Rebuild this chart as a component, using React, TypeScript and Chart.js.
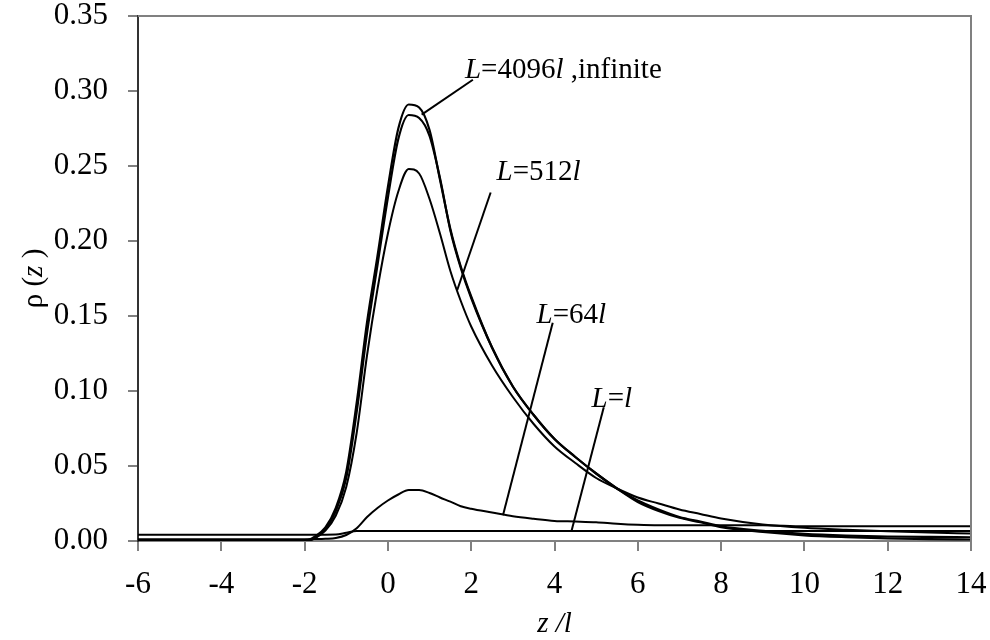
import { useEffect, useRef } from 'react';
import { Chart, registerables } from 'chart.js';

Chart.register(...registerables);

// z/l grid shared by all series
const zGrid = [-6, -2.5, -2, -1.75, -1.5, -1.25, -1, -0.75, -0.5, -0.25, 0, 0.25, 0.5, 0.75, 1, 1.25, 1.5, 1.75, 2, 2.5, 3, 3.5, 4, 4.5, 5, 5.5, 6, 6.5, 7, 7.5, 8, 9, 10, 11, 12, 13, 14];

const rhoInfinite = [0, 0, 0, 0.003, 0.009, 0.022, 0.046, 0.092, 0.146, 0.19, 0.236, 0.275, 0.291, 0.289, 0.274, 0.241, 0.208, 0.183, 0.163, 0.129, 0.103, 0.084, 0.068, 0.056, 0.045, 0.035, 0.026, 0.02, 0.0155, 0.0125, 0.0092, 0.006, 0.0038, 0.0026, 0.0018, 0.0013, 0.001];
const rho4096 = [0, 0, 0, 0.002, 0.008, 0.02, 0.042, 0.086, 0.139, 0.184, 0.229, 0.268, 0.284, 0.282, 0.27, 0.242, 0.207, 0.182, 0.162, 0.129, 0.103, 0.084, 0.068, 0.056, 0.045, 0.035, 0.027, 0.021, 0.016, 0.013, 0.0098, 0.0068, 0.0047, 0.0036, 0.003, 0.0027, 0.0025];
const rho512 = [0, 0, 0, 0.002, 0.007, 0.017, 0.036, 0.072, 0.124, 0.168, 0.205, 0.233, 0.248, 0.245, 0.228, 0.205, 0.18, 0.16, 0.143, 0.117, 0.096, 0.078, 0.063, 0.052, 0.042, 0.035, 0.029, 0.025, 0.021, 0.018, 0.015, 0.011, 0.0088, 0.0075, 0.0065, 0.0057, 0.005];
const rho64 = [0.0012, 0.0012, 0.0012, 0.0013, 0.0015, 0.002, 0.004, 0.0085, 0.016, 0.022, 0.027, 0.031, 0.034, 0.034, 0.032, 0.029, 0.0262, 0.0232, 0.0215, 0.019, 0.0165, 0.0148, 0.0134, 0.013, 0.0125, 0.0115, 0.0108, 0.0105, 0.0105, 0.0105, 0.0105, 0.0105, 0.0098, 0.0098, 0.0098, 0.0098, 0.0098];
const rhoL1 = [0.0042, 0.0042, 0.0042, 0.0042, 0.0042, 0.0043, 0.0055, 0.0067, 0.0067, 0.0067, 0.0067, 0.0067, 0.0067, 0.0067, 0.0067, 0.0067, 0.0067, 0.0067, 0.0067, 0.0067, 0.0067, 0.0067, 0.0067, 0.0067, 0.0067, 0.0067, 0.0067, 0.0067, 0.0067, 0.0067, 0.0067, 0.0067, 0.0067, 0.0067, 0.0067, 0.0067, 0.0067];

const xTickValues = [-6, -4, -2, 0, 2, 4, 6, 8, 10, 12, 14];
const yTickValues = [0, 0.05, 0.1, 0.15, 0.2, 0.25, 0.3, 0.35];

// curve labels: text segments [text, italic]
const labelSegments: [string, boolean][][] = [
  [['L', true], ['=4096', false], ['l', true], [' ,infinite', false]],
  [['L', true], ['=512', false], ['l', true]],
  [['L', true], ['=64', false], ['l', true]],
  [['L', true], ['=', false], ['l', true]],
];
const labelZ = [1.85, 2.61, 3.57, 4.89];
const labelRho = [0.3085, 0.2407, 0.1453, 0.0894];
// pointer lines from label to curve
const pointerZ0 = [2.04, 2.467, 3.957, 5.183];
const pointerRho0 = [0.3075, 0.2323, 0.1455, 0.0892];
const pointerZ1 = [0.81, 1.665, 2.763, 4.408];
const pointerRho1 = [0.2842, 0.1673, 0.0171, 0.0067];

const FONT = '"Liberation Serif", "Times New Roman", serif';
const FS = 29;
const TICK_FS = 31;

function drawSegments(ctx: CanvasRenderingContext2D, segs: [string, boolean][], x: number, y: number, align: 'left' | 'center') {
  let total = 0;
  const widths = segs.map(([t, it]) => {
    ctx.font = `${it ? 'italic ' : ''}${FS}px ${FONT}`;
    const w = ctx.measureText(t).width;
    total += w;
    return w;
  });
  let cx = align === 'center' ? x - total / 2 : x;
  segs.forEach(([t, it], i) => {
    ctx.font = `${it ? 'italic ' : ''}${FS}px ${FONT}`;
    ctx.fillText(t, cx, y);
    cx += widths[i];
  });
}

const annotPlugin = {
  id: 'annot',
  afterDatasetsDraw(chart: any) {
    const { ctx, chartArea, scales } = chart;
    const xs = scales.x;
    const ys = scales.y;
    ctx.save();
    // frame top & right
    ctx.strokeStyle = '#808080';
    ctx.lineWidth = 2;
    ctx.beginPath();
    ctx.moveTo(chartArea.left, chartArea.top);
    ctx.lineTo(chartArea.right, chartArea.top);
    ctx.lineTo(chartArea.right, chartArea.bottom);
    ctx.stroke();
    // pointers
    ctx.strokeStyle = '#000';
    ctx.lineWidth = 2;
    for (let i = 0; i < pointerZ0.length; i++) {
      ctx.beginPath();
      ctx.moveTo(xs.getPixelForValue(pointerZ0[i]), ys.getPixelForValue(pointerRho0[i]));
      ctx.lineTo(xs.getPixelForValue(pointerZ1[i]), ys.getPixelForValue(pointerRho1[i]));
      ctx.stroke();
    }
    // labels
    ctx.fillStyle = '#000';
    ctx.textBaseline = 'alphabetic';
    ctx.textAlign = 'left';
    labelSegments.forEach((segs, i) => {
      drawSegments(ctx, segs, xs.getPixelForValue(labelZ[i]), ys.getPixelForValue(labelRho[i]), 'left');
    });
    // x title
    drawSegments(ctx, [['z', true], [' /', true], ['l', true]], (chartArea.left + chartArea.right) / 2, chartArea.bottom + 91, 'center');
    // y title
    ctx.save();
    ctx.translate(42, (chartArea.top + chartArea.bottom) / 2);
    ctx.rotate(-Math.PI / 2);
    drawSegments(ctx, [['ρ ', false], ['(', false], ['z', true], [' )', false]], 0, 0, 'center');
    ctx.restore();
    ctx.restore();
  },
};

export default function App() {
  const ref = useRef<HTMLCanvasElement>(null);
  useEffect(() => {
    document.body.style.margin = '0';
    const mk = (vals: number[], w: number) => ({
      data: zGrid.map((z, i) => ({ x: z, y: vals[i] })),
      borderColor: '#000',
      borderWidth: w,
      pointRadius: 0,
      fill: false,
      cubicInterpolationMode: 'monotone' as const,
    });
    const chart = new Chart(ref.current!, {
      type: 'line',
      data: {
        datasets: [
          { label: 'infinite', ...mk(rhoInfinite, 2.2) },
          { label: 'L=4096l', ...mk(rho4096, 2.2) },
          { label: 'L=512l', ...mk(rho512, 2) },
          { label: 'L=64l', ...mk(rho64, 2) },
          { label: 'L=l', ...mk(rhoL1, 2) },
        ],
      },
      options: {
        animation: false,
        responsive: false,
        devicePixelRatio: 1,
        layout: { padding: { left: 0, right: 19, top: 16, bottom: 0 } },
        plugins: { legend: { display: false }, tooltip: { enabled: false } },
        scales: {
          x: {
            type: 'linear',
            min: -6,
            max: 14,
            afterBuildTicks: (s: any) => { s.ticks = xTickValues.map((v) => ({ value: v })); },
            afterFit: (s: any) => { s.height = 99; s.paddingLeft = 0; s.paddingRight = 0; },
            ticks: { color: '#000', font: { family: FONT, size: TICK_FS }, padding: 15, maxRotation: 0, autoSkip: false, callback: (v: any) => String(v) },
            grid: { drawOnChartArea: false, drawTicks: true, tickLength: 10, color: '#808080', lineWidth: 2 },
            border: { display: true, color: '#808080', width: 2 },
          },
          y: {
            type: 'linear',
            min: 0,
            max: 0.35,
            afterBuildTicks: (s: any) => { s.ticks = yTickValues.map((v) => ({ value: v })); },
            afterFit: (s: any) => { s.width = 138; s.paddingTop = 0; s.paddingBottom = 0; },
            ticks: { color: '#000', font: { family: FONT, size: TICK_FS }, padding: 20, autoSkip: false, callback: (v: any) => Number(v).toFixed(2) },
            grid: { drawOnChartArea: false, drawTicks: true, tickLength: 10, color: '#808080', lineWidth: 2 },
            border: { display: true, color: '#333', width: 2 },
          },
        },
      },
      plugins: [annotPlugin],
    });
    return () => chart.destroy();
  }, []);
  return (
    <div style={{ width: 990, height: 640 }}>
      <canvas ref={ref} width={990} height={640} />
    </div>
  );
}
